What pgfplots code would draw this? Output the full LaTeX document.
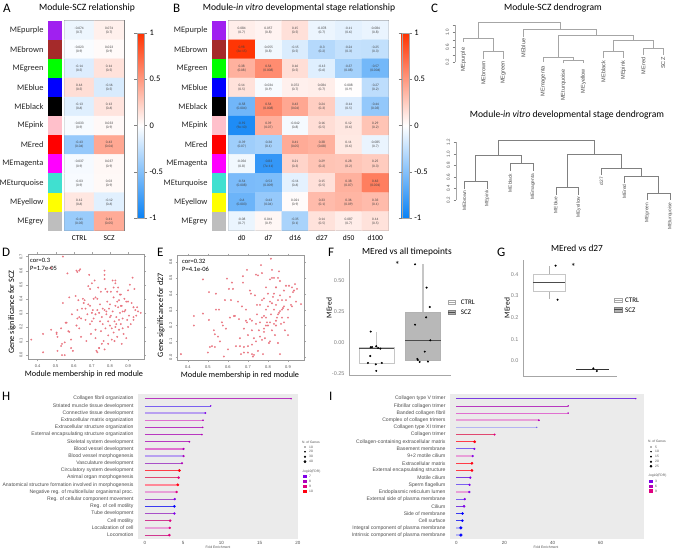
\documentclass[border=0pt]{standalone}
\usepackage{fontspec}
\setmainfont{Carlito}
\newfontfamily\sansgg{Liberation Sans}
\usepackage{pgfplots}
\usepackage{pgfplotstable}
\pgfplotsset{compat=1.18}

\newcommand\fs[1]{\fontsize{#1}{#1}\selectfont}
% text placed in reference pixels, origin top left
\newcommand\T[4][]{\node[inner sep=0,#1] at (#2pt,-#3pt){#4};}

\definecolor{ppl}{HTML}{7A3CE0}
\definecolor{vio}{HTML}{7A60F0}
\definecolor{lav}{HTML}{B8A0F0}
\definecolor{ltb}{HTML}{B4B4F2}
\definecolor{orc}{HTML}{B838C0}
\definecolor{rrs}{HTML}{E070D0}
\definecolor{lpk}{HTML}{E8A0D8}
\definecolor{plm}{HTML}{A850C8}
\definecolor{rd}{HTML}{FF3C48}
\definecolor{rse}{HTML}{E04870}
\definecolor{lrd}{HTML}{FF8898}
\definecolor{cri}{HTML}{D03890}
\definecolor{blu}{HTML}{3A3AF0}
\definecolor{dpur}{HTML}{8000E8}
\definecolor{dmag}{HTML}{B000B8}
\definecolor{dcri}{HTML}{E00080}
\definecolor{dred}{HTML}{FF0010}
\definecolor{dblu}{HTML}{0000FF}
\definecolor{ptc}{HTML}{E8707C}
\definecolor{txt}{HTML}{4D4D4D}

\pgfplotsset{
  mybox/.style n args={4}{at={(#1pt,-#2pt)},anchor=north west,width=#3pt,height=#4pt,scale only axis},
  /pgf/number format/assume math mode=true,
  colormap={bwr}{rgb255=(10,130,245) rgb255=(255,255,255) rgb255=(255,50,0)},
  myheat/.style={enlargelimits=false,y dir=reverse,ymin=-.5,ymax=10.5,ytick=\empty,
    major tick length=0pt,axis line style={draw=gray,line width=.8pt},point meta min=-1,point meta max=1,
    xticklabel style={font=\fs{7.5},text=black,yshift=-1pt},
    colorbar,colorbar style={at={(parent axis.north east)},anchor=north west,xshift=4.5pt,yshift=-12.3pt,
      width=7pt,height=185pt,ytick={-1,-.5,0,.5,1},yticklabels={-1,-0.5,0,0.5,1},
      major tick length=3pt,tick align=outside,axis line style={draw=gray!70,line width=.4pt},
      yticklabel style={font=\fs{8.5},xshift=-1pt}}},
  mycelltxt/.style={only marks,mark=none,point meta=explicit symbolic,
    every node near coord/.style={anchor=center,inner sep=0,text=black!75,font=\fs{3.5},yshift=#1}},
  mystrip/.style={hide x axis,y dir=reverse,xmin=0,xmax=1,ymin=-.5,ymax=10.5,axis y line=left,y axis line style={draw=none},
    major tick length=0pt,ytick={0,...,10},
    yticklabels={MEpurple,MEbrown,MEgreen,MEblue,MEblack,MEpink,MEred,MEmagenta,MEturquoise,MEyellow,MEgrey},
    yticklabel style={font=\fs{8.4},text=black!85,xshift=-1pt}},
  mydendro/.style={clip=false,hide x axis,axis y line=left,y axis line style={draw=none},tick align=outside,
    major tick length=2.5pt,tick style={draw=gray},ytick={.2,.4,.6,.8,1,1.2},
    yticklabels={0.2,,0.6,,1.0,},
    yticklabel style={font=\sansgg\fs{4.5},text=txt,rotate=90,anchor=south,yshift=0pt}},
  mydg/.style={draw=gray!70,line width=.5pt},
  myscat/.style={axis line style={draw=gray!80,line width=.9pt},tick style={draw=gray!70},major tick length=2pt,
    tick align=outside,xtick={.4,.5,.6,.7,.8,.9},ytick={0,.1,.2,.3,.4,.5,.6,.7},
    xticklabels={0.4,0.5,0.6,0.7,0.8,0.9},yticklabels={0.0,0.1,0.2,0.3,0.4,0.5,0.6,0.7},
    xticklabel style={font=\sansgg\fs{4},text=txt},
    yticklabel style={font=\sansgg\fs{4},text=txt,rotate=90,anchor=south}},
  mypts/.style={only marks,mark=*,mark size=.75pt,color=ptc,opacity=.85},
  mybx/.style={axis x line=bottom,axis y line=left,axis line style={-,draw=gray!70,line width=.6pt},xtick=\empty,
    major tick length=0pt,yticklabel style={font=\sansgg\fs{5.5},text=gray,xshift=-1pt}},
  mydot/.style={only marks,mark=*,mark size=.8pt,color=black},
  mylolli/.style={y dir=reverse,ymin=.35,ymax=20.55,ytick={1,...,20},axis background/.style={fill=black!8},
    axis line style={draw=none},major tick length=0pt,clip=false,
    xticklabel style={font=\sansgg\fs{4.5},text=txt,yshift=1pt},
    yticklabel style={font=\sansgg\fs{5.1},text=txt,xshift=-1pt}},
}

% one lollipop: row, value, line colour, line width, dot colour, dot size
\newcommand\lol[6]{\addplot[#3,line width=#4pt] coordinates {(0,#1)(#2,#1)};
  \addplot[only marks,mark=*,mark size=#6pt,color=#5] coordinates {(#2,#1)};}
\newcommand\mestrips{
  \addplot[fill={rgb,255:red,160;green,32;blue,240},draw=none] coordinates {(0,-.5)(1,-.5)(1,.5)(0,.5)} --cycle;
  \addplot[fill={rgb,255:red,165;green,42;blue,42},draw=none] coordinates {(0,.5)(1,.5)(1,1.5)(0,1.5)} --cycle;
  \addplot[fill={rgb,255:red,0;green,255;blue,0},draw=none] coordinates {(0,1.5)(1,1.5)(1,2.5)(0,2.5)} --cycle;
  \addplot[fill={rgb,255:red,0;green,0;blue,255},draw=none] coordinates {(0,2.5)(1,2.5)(1,3.5)(0,3.5)} --cycle;
  \addplot[fill=black,draw=none] coordinates {(0,3.5)(1,3.5)(1,4.5)(0,4.5)} --cycle;
  \addplot[fill={rgb,255:red,255;green,192;blue,203},draw=none] coordinates {(0,4.5)(1,4.5)(1,5.5)(0,5.5)} --cycle;
  \addplot[fill={rgb,255:red,255;green,0;blue,0},draw=none] coordinates {(0,5.5)(1,5.5)(1,6.5)(0,6.5)} --cycle;
  \addplot[fill={rgb,255:red,255;green,0;blue,255},draw=none] coordinates {(0,6.5)(1,6.5)(1,7.5)(0,7.5)} --cycle;
  \addplot[fill={rgb,255:red,64;green,224;blue,208},draw=none] coordinates {(0,7.5)(1,7.5)(1,8.5)(0,8.5)} --cycle;
  \addplot[fill={rgb,255:red,255;green,255;blue,0},draw=none] coordinates {(0,8.5)(1,8.5)(1,9.5)(0,9.5)} --cycle;
  \addplot[fill={rgb,255:red,190;green,190;blue,190},draw=none] coordinates {(0,9.5)(1,9.5)(1,10.5)(0,10.5)} --cycle;
}
% a heatmap: colours, correlation above, p value below
\newcommand\heatcells[2]{
  \addplot[matrix plot*,mesh/cols=#1,point meta=\thisrow{c}] table[x=x,y=y] {#2};
  \addplot[mycelltxt=2.1pt,nodes near coords={\pgfplotspointmeta}] table[x=x,y=y,meta=c] {#2};
  \addplot[mycelltxt=-2.1pt,nodes near coords={(\pgfplotspointmeta)}] table[x=x,y=y,meta=p] {#2};
}

\pgfplotstableread{
x y c p
0 0 -0.074 0.7
1 0 0.074 0.7
0 1 -0.023 0.9
1 1 0.023 0.9
0 2 -0.14 0.5
1 2 0.14 0.5
0 3 0.16 0.5
1 3 -0.16 0.5
0 4 -0.13 0.6
1 4 0.13 0.6
0 5 -0.033 0.9
1 5 0.033 0.9
0 6 -0.43 0.04
1 6 0.43 0.04
0 7 -0.037 0.9
1 7 0.037 0.9
0 8 -0.03 0.9
1 8 0.03 0.9
0 9 0.12 0.6
1 9 -0.12 0.6
0 10 -0.41 0.05
1 10 0.41 0.05
}\tabA

\pgfplotstableread{
x y c p
0 0 0.084 0.7
1 0 0.057 0.8
2 0 0.15 0.5
3 0 -0.078 0.7
4 0 -0.11 0.6
5 0 -0.084 0.8
0 1 0.98 3e-15
1 1 -0.055 0.8
2 1 -0.15 0.5
3 1 -0.3 0.2
4 1 -0.24 0.3
5 1 -0.25 0.3
0 2 0.38 0.08
1 2 0.56 0.008
2 2 0.16 0.5
3 2 -0.13 0.6
4 2 -0.37 0.08
5 2 -0.57 0.004
0 3 0.14 0.5
1 3 -0.034 0.9
2 3 0.072 0.7
3 3 0.084 0.7
4 3 0.008 0.9
5 3 -0.27 0.2
0 4 -0.58 0.004
1 4 0.56 0.008
2 4 0.43 0.04
3 4 0.24 0.3
4 4 -0.14 0.5
5 4 -0.44 0.03
0 5 -0.92 9e-10
1 5 0.39 0.07
2 5 -0.042 0.8
3 5 0.16 0.5
4 5 0.12 0.6
5 5 0.29 0.2
0 6 -0.39 0.07
1 6 -0.36 0.1
2 6 0.41 0.05
3 6 0.38 0.08
4 6 0.11 0.6
5 6 -0.085 0.7
0 7 -0.056 0.8
1 7 -0.83 7e-11
2 7 0.21 0.3
3 7 0.29 0.2
4 7 0.28 0.2
5 7 0.25 0.3
0 8 -0.54 0.008
1 8 -0.53 0.009
2 8 -0.11 0.6
3 8 0.15 0.5
4 8 0.38 0.07
5 8 0.63 0.001
0 9 -0.6 0.003
1 9 -0.43 0.04
2 9 0.021 0.9
3 9 0.33 0.1
4 9 0.36 0.09
5 9 0.33 0.1
0 10 -0.08 0.7
1 10 0.041 0.9
2 10 -0.35 0.1
3 10 0.14 0.5
4 10 0.087 0.7
5 10 0.14 0.5
}\tabB

\begin{document}
\begin{tikzpicture}
\useasboundingbox (0pt,0pt) rectangle (675pt,-550pt);

% A
\T[anchor=west,font=\fs{13}]{3}{8}{A}
\T[font=\fs{9.6}]{87}{8}{Module-SCZ relationship}
\begin{axis}[mybox={48}{20.7}{14}{210},mystrip]
\mestrips
\end{axis}
\begin{axis}[mybox={64.3}{20.7}{59.7}{210},myheat,xmin=-.5,xmax=1.5,xtick={0,1},xticklabels={CTRL,SCZ}]
\heatcells{2}{\tabA}
\end{axis}

% B
\T[anchor=west,font=\fs{13}]{173}{8}{B}
\T[font=\fs{9.6}]{299}{8}{Module-\textit{in vitro} developmental stage relationship}
\begin{axis}[mybox={212}{20.7}{14}{210},mystrip]
\mestrips
\end{axis}
\begin{axis}[mybox={228.3}{20.7}{160.4}{210},myheat,xmin=-.5,xmax=5.5,xtick={0,...,5},xticklabels={d0,d7,d16,d27,d50,d100}]
\heatcells{6}{\tabB}
\end{axis}

% C
\T[anchor=west,font=\fs{13}]{431}{8}{C}
\T[font=\fs{9.6}]{553}{8}{Module-SCZ dendrogram}
\T[font=\fs{9.6}]{567}{115}{Module-\textit{in vitro} developmental stage dendrogram}
\begin{axis}[mybox={455}{22.67}{215}{39.67},mydendro,xmin=.585,xmax=11.335,ymin=.2,ymax=1.2625]
\addplot[draw=gray!70,line width=.4pt] coordinates {(.585,.2)(.585,1.2)};
\addplot[mydg] coordinates {(2,.28)(2,.486)(3,.486)(3,.28)};
\addplot[mydg] coordinates {(1,.754)(1,.834)(2.5,.834)(2.5,.486)};
\addplot[mydg] coordinates {(6,.173)(6,.2625)(7,.2625)(7,.173)};
\addplot[mydg] coordinates {(5,.218)(5,.334)(6.5,.334)(6.5,.2625)};
\addplot[mydg] coordinates {(8,.307)(8,.495)(9,.495)(9,.307)};
\addplot[mydg] coordinates {(10,.396)(10,.566)(11,.566)(11,.396)};
\addplot[mydg] coordinates {(8.5,.495)(8.5,.789)(10.5,.789)(10.5,.566)};
\addplot[mydg] coordinates {(5.75,.334)(5.75,.932)(9.5,.932)(9.5,.789)};
\addplot[mydg] coordinates {(4,.87)(4,1.084)(7.67,1.084)(7.67,.932)};
\addplot[mydg] coordinates {(1.75,.834)(1.75,1.2625)(5.83,1.2625)(5.83,1.084)};
\begin{scope}[every node/.style={rotate=90,anchor=east,inner sep=0,font=\sansgg\fs{5.6},text=txt}]
\node at (axis cs:1,.593){MEpurple};
\node at (axis cs:2,.236){MEbrown};
\node at (axis cs:3,.236){MEgreen};
\node at (axis cs:4,.843){MEblue};
\node at (axis cs:5,.102){MEmagenta};
\node at (axis cs:6,.021){MEturquoise};
\node at (axis cs:7,.021){MEyellow};
\node at (axis cs:8,.245){MEblack};
\node at (axis cs:9,.245){MEpink};
\node at (axis cs:10,.334){MEred};
\node at (axis cs:11,.334){SCZ};
\end{scope}
\end{axis}
\begin{axis}[mybox={456}{140.67}{215.7}{59.33},mydendro,yticklabels={0.2,0.4,0.6,0.8,1.0,1.2},xmin=.635,xmax=10.073,ymin=.2,ymax=1.229]
\addplot[draw=gray!70,line width=.4pt] coordinates {(.635,.2)(.635,1.2)};
\addplot[mydg,draw=gray] coordinates {(1,.385)(1,.518)(2,.518)(2,.385)};
\addplot[mydg,draw=gray] coordinates {(3,.709)(3,.83)(4,.83)(4,.709)};
\addplot[mydg,draw=gray] coordinates {(1.496,.518)(1.496,.975)(3.51,.975)(3.51,.83)};
\addplot[mydg,draw=gray] coordinates {(5,.287)(5,.414)(6,.414)(6,.287)};
\addplot[mydg,draw=gray] coordinates {(9,.2)(9,.31)(10,.31)(10,.2)};
\addplot[mydg,draw=gray] coordinates {(8,.489)(8,.61)(9.5,.61)(9.5,.31)};
\addplot[mydg,draw=gray] coordinates {(7,.634)(7,.749)(8.76,.749)(8.76,.61)};
\addplot[mydg,draw=gray] coordinates {(5.5,.414)(5.5,.992)(7.886,.992)(7.886,.749)};
\addplot[mydg,draw=gray,line width=.8pt] coordinates {(2.488,.975)(2.488,1.229)(6.689,1.229)(6.689,.992)};
\begin{scope}[every node/.style={rotate=90,anchor=east,inner sep=0,font=\sansgg\fs{4.8},text=txt}]
\node at (axis cs:1,.37){MEbrown};
\node at (axis cs:2,.37){MEpink};
\node at (axis cs:3,.66){MEblack};
\node at (axis cs:4,.66){MEmagenta};
\node at (axis cs:5,.26){MEblue};
\node at (axis cs:6,.26){MEyellow};
\node at (axis cs:7,.6){d27};
\node at (axis cs:8,.47){MEred};
\node at (axis cs:9,.155){MEgreen};
\node at (axis cs:10,.155){MEturquoise};
\end{scope}
\end{axis}

% D
\T[anchor=west,font=\fs{13}]{2}{252}{D}
\T[rotate=90,font=\fs{8.2}]{12}{312}{Gene significance for SCZ}
\T[font=\fs{8.2}]{84}{374}{Module membership in red module}
\begin{axis}[mybox={28}{254.3}{116}{105},myscat,xmin=.347,xmax=.988,ymin=-.03,ymax=.716]
\addplot[mypts] coordinates {
(.365,.11)(.43,.15)(.43,.02)(.475,.18)(.475,.62)(.505,.15)(.505,.16)(.51,.13)(.51,.03)(.53,.19)
(.535,.08)(.53,.065)(.54,.37)(.54,.70)(.535,0)(.55,0)(.55,.09)(.555,.23)(.56,.23)(.565,.58)
(.57,.17)(.575,.165)(.575,.41)(.585,.11)(.59,.29)(.585,.05)(.595,.03)(.61,.42)(.615,.6)(.62,.59)
(.625,.39)(.63,.6)(.635,.61)(.62,.32)(.63,.27)(.615,.21)(.63,.19)(.64,.26)(.645,.33)(.65,.4)
(.655,.37)(.62,.26)(.64,.13)(.66,.39)(.665,.25)(.665,.33)(.67,.10)(.675,.29)(.68,.36)(.685,.57)
(.68,.49)(.69,.47)(.69,.35)(.695,.15)(.70,.24)(.70,.51)(.705,.32)(.71,.40)(.71,.26)(.715,.53)
(.72,.41)(.72,.18)(.72,.12)(.725,.03)(.73,.32)(.73,.40)(.735,.48)(.74,.05)(.74,.30)(.745,.24)
(.745,.36)(.75,.17)(.75,.45)(.755,.08)(.755,.27)(.76,.33)(.765,.10)(.77,.60)(.77,.57)(.77,.54)
(.77,.32)(.775,.47)(.775,.19)(.78,.29)(.78,.31)(.785,.45)(.785,.38)(.79,.24)(.79,.14)(.795,.33)
(.80,.36)(.80,.21)(.805,.45)(.805,.28)(.81,.19)(.81,.11)(.815,.53)(.815,.31)(.82,.48)(.82,.41)
(.825,.24)(.825,.10)(.83,.53)(.83,.51)(.83,.35)(.835,.27)(.835,.22)(.84,.13)(.84,.45)(.845,.48)
(.845,.34)(.85,.25)(.85,.39)(.855,.43)(.855,.30)(.86,.43)(.86,.22)(.865,.08)(.865,.35)(.87,.26)
(.87,.31)(.875,.15)(.88,.40)(.885,.32)(.89,.38)(.89,.12)(.895,.25)(.90,.46)(.90,.38)(.905,.28)
(.91,.50)(.915,.22)(.92,.37)(.925,.55)(.93,.27)(.93,.34)(.935,.47)(.94,.32)(.945,.28)(.95,.34)
(.955,.31)(.97,.30)(.90,.20)(.93,.25)(.87,.19)(.82,.16)(.79,.08)(.77,.04)(.74,.05)(.73,.02)
(.80,.27)(.83,.20)(.85,.18)(.76,.22)(.72,.29)(.70,.30)(.69,.22)(.84,.38)(.86,.35)(.88,.31)
};
\end{axis}
\T[anchor=west,font=\fs{6.5}]{30}{260}{cor=0.3}
\T[anchor=west,font=\fs{6.5}]{30}{268}{P=1.7e-05}

% E
\T[anchor=west,font=\fs{13}]{157}{252}{E}
\T[rotate=90,font=\fs{8.2}]{161}{315}{Gene significance for d27}
\T[font=\fs{8.2}]{240}{375}{Module membership in red module}
\begin{axis}[mybox={177.7}{255.7}{126.3}{104.3},myscat,xmin=.349,xmax=.98,ymin=-.017,ymax=.639,ytick={0,.1,.2,.3,.4,.5,.6},yticklabels={0.0,0.1,0.2,0.3,0.4,0.5,0.6}]
\addplot[mypts] coordinates {
(.365,.02)(.43,.26)(.43,.20)(.475,.49)(.475,.275)(.505,.41)(.505,.235)(.50,.03)(.51,.065)(.52,.07)
(.53,.17)(.535,.145)(.54,.40)(.54,.30)(.535,.065)(.55,.13)(.555,.30)(.56,.10)(.57,.22)(.575,.20)
(.58,.005)(.585,.36)(.59,.18)(.595,.495)(.60,.05)(.605,.43)(.62,.47)(.625,.43)(.615,.36)(.61,.25)
(.63,.26)(.635,.26)(.64,.07)(.65,.35)(.655,.24)(.66,.07)(.665,.02)(.67,.32)(.675,.51)(.675,.47)
(.68,.18)(.68,.065)(.69,.23)(.695,.22)(.695,.55)(.70,.14)(.70,.03)(.71,.24)(.71,.42)(.715,.40)
(.72,.02)(.72,.17)(.725,.005)(.73,.015)(.735,.39)(.74,.10)(.74,.52)(.745,.27)(.745,.33)(.75,.515)
(.755,.17)(.76,.33)(.765,.58)(.77,.53)(.77,.25)(.775,.02)(.78,.18)(.78,.37)(.785,.12)(.79,.30)
(.79,.44)(.795,.22)(.80,.20)(.80,.32)(.805,.09)(.81,.10)(.81,.49)(.815,.62)(.815,.27)(.82,.55)
(.82,.17)(.825,.38)(.83,.21)(.83,.50)(.835,.14)(.84,.44)(.84,.33)(.845,.25)(.85,.50)(.85,.09)
(.855,.54)(.855,.28)(.86,.02)(.86,.39)(.865,.21)(.87,.25)(.875,.31)(.88,.42)(.885,.17)(.89,.36)
(.90,.14)(.90,.30)(.905,.45)(.91,.38)(.915,.33)(.92,.32)(.925,.41)(.93,.42)(.935,.46)(.94,.35)
(.945,.43)(.965,.335)(.76,.13)(.72,.08)(.68,.03)(.66,.12)(.73,.12)(.77,.11)(.79,.25)(.81,.22)
(.80,.40)(.82,.34)(.84,.20)(.86,.29)(.87,.30)(.83,.30)(.76,.22)(.74,.21)(.78,.16)(.77,.36)
(.70,.07)(.82,.50)(.84,.44)(.86,.48)(.88,.32)(.89,.45)(.90,.25)(.88,.22)(.92,.44)(.75,.04)
(.72,.23)(.69,.30)(.85,.27)(.83,.40)(.87,.36)(.81,.35)(.79,.20)(.85,.36)(.78,.26)(.84,.23)
};
\end{axis}
\T[anchor=west,font=\fs{6.5}]{182}{261}{cor=0.32}
\T[anchor=west,font=\fs{6.5}]{182}{269}{P=4.1e-06}

% F
\T[anchor=west,font=\fs{13}]{328}{252}{F}
\T[font=\fs{9.4}]{407}{252}{MEred vs all timepoints}
\T[rotate=90,font=\fs{7.5}]{329}{308}{MEred}
\begin{axis}[mybox={349}{259}{102}{116},mybx,xmin=.4,xmax=2.609,ymin=-.263,ymax=.67,ytick={-.25,0,.25,.5},yticklabels={-0.25,0.00,0.25,0.50},clip=false]
% CTRL
\addplot[draw=gray!45,line width=1pt] coordinates {(1,-.043)(1,.086)};
\addplot[draw=gray!45,line width=.7pt,fill=white] coordinates {(.616,-.169)(1.384,-.169)(1.384,-.043)(.616,-.043)} --cycle;
\addplot[draw=black!70,line width=.6pt] coordinates {(.616,-.048)(1.384,-.048)};
% SCZ
\addplot[draw=gray!45,line width=1.5pt] coordinates {(2,.241)(2,.627)};
\addplot[draw=gray!60,line width=.6pt,fill=black!28] coordinates {(1.616,-.142)(2.384,-.142)(2.384,.241)(1.616,.241)} --cycle;
\addplot[draw=black!70,line width=.6pt] coordinates {(1.616,.016)(2.384,.016)};
\addplot[mydot] coordinates {(.87,.086)(.87,-.04)(.9,-.038)(.99,-.032)(1.03,-.046)(1.08,-.051)(.86,-.11)(.81,-.166)(.98,-.177)(1.11,-.166)(.99,-.23)};
\addplot[mydot] coordinates {(1.83,.627)(2.08,.44)(2.15,.284)(2.07,.201)(1.83,.142)(2.16,.016)(2.04,-.075)(1.88,-.134)(1.89,-.142)(1.93,-.158)(2.11,-.155)};
\node[inner sep=0,font=\fs{10}] at (axis cs:1.449,.625){*};
\end{axis}

% G
\T[anchor=west,font=\fs{13}]{497}{252}{G}
\T[font=\fs{9.4}]{577}{248}{MEred vs d27}
\T[rotate=90,font=\fs{7.5}]{507}{308}{MEred}
\begin{axis}[mybox={523}{260}{94}{116},mybx,xmin=.395,xmax=2.566,ymin=-.069,ymax=.466,ytick={0,.1,.2,.3,.4},yticklabels={0.0,0.1,0.2,0.3,0.4},clip=false]
\addplot[draw=gray!60,line width=.6pt] coordinates {(1,.286)(1,.44)};
\addplot[draw=gray!45,line width=.7pt,fill=white] coordinates {(.625,.322)(1.375,.322)(1.375,.4)(.625,.4)} --cycle;
\addplot[draw=black!70,line width=.6pt] coordinates {(.625,.363)(1.375,.363)};
\addplot[draw=black!80,line width=.9pt] coordinates {(1.625,-.037)(2.375,-.037)};
\addplot[mydot] coordinates {(1.147,.44)(1.194,.283)(2.02,-.034)(2.1,-.046)};
\node[inner sep=0,font=\fs{10}] at (axis cs:1.558,.435){*};
\end{axis}

% H
\T[anchor=west,font=\fs{13}]{2}{396}{H}
\begin{axis}[mybox={138}{394}{160}{145},mylolli,xmin=-.9,xmax=20,xtick={0,5,10,15,20},xticklabels={0,5,10,15,20},
  yticklabels={Collagen fibril organization,Striated muscle tissue development,Connective tissue development,Extracellular matrix organization,Extracellular structure organization,External encapsulating structure organization,Skeletal system development,Blood vessel development,Blood vessel morphogenesis,Vasculature development,Circulatory system development,Animal organ morphogenesis,Anatomical structure formation involved in morphogenesis,Negative reg. of multicellular organismal proc.,Reg. of cellular component movement,Reg. of cell motility,Tube development,Cell motility,Localization of cell,Locomotion}]
\lol{1}{19.1}{orc}{.6}{dmag}{.5}
\lol{2}{8.6}{vio}{.7}{dpur}{.5}
\lol{3}{7.9}{lav}{1.5}{dpur}{.7}
\lol{4}{7.6}{rrs}{1.2}{dmag}{.6}
\lol{5}{7.55}{orc}{.8}{dmag}{.6}
\lol{6}{7.45}{orc}{.7}{dmag}{.6}
\lol{7}{5.8}{orc}{.7}{dmag}{.7}
\lol{8}{5.05}{rrs}{1.3}{dmag}{.9}
\lol{9}{5.05}{lav}{1.4}{dmag}{.9}
\lol{10}{4.85}{plm}{.9}{dmag}{.9}
\lol{11}{4.5}{rd}{.9}{dred}{1.2}
\lol{12}{4.4}{rse}{1}{dcri}{1.1}
\lol{13}{4.3}{lrd}{1.5}{dred}{1.2}
\lol{14}{4.15}{lpk}{1.5}{dcri}{1}
\lol{15}{3.9}{plm}{.9}{dpur}{1}
\lol{16}{3.85}{blu}{.9}{dblu}{1.1}
\lol{17}{3.85}{plm}{.9}{dpur}{1}
\lol{18}{3.3}{cri}{.8}{dcri}{1.1}
\lol{19}{3.25}{lpk}{1.5}{dcri}{1}
\lol{20}{3.2}{cri}{1}{dcri}{1.1}
\end{axis}
\T[font=\sansgg\fs{3.4},text=txt]{218}{547.7}{Fold Enrichment}

% I
\T[anchor=west,font=\fs{13}]{329}{396}{I}
\begin{axis}[mybox={450}{394}{194}{145},mylolli,xmin=-2.63,xmax=78,xtick={0,20,40,60},xticklabels={0,20,40,60},
  yticklabels={Collagen type V trimer,Fibrillar collagen trimer,Banded collagen fibril,Complex of collagen trimers,Collagen type XI trimer,Collagen trimer,Collagen-containing extracellular matrix,Basement membrane,9+2 motile cilium,Extracellular matrix,External encapsulating structure,Motile cilium,Sperm flagellum,Endoplasmic reticulum lumen,External side of plasma membrane,Cilium,Side of membrane,Cell surface,Integral component of plasma membrane,Intrinsic component of plasma membrane}]
\lol{1}{74.6}{ppl}{.6}{dpur}{.4}
\lol{2}{46.5}{orc}{.7}{dmag}{.5}
\lol{3}{46.5}{rrs}{.9}{dmag}{.5}
\lol{4}{34.3}{lpk}{1.5}{dmag}{.7}
\lol{5}{33.4}{ltb}{1.4}{vio}{.5}
\lol{6}{15.9}{rse}{.9}{dcri}{.8}
\lol{7}{7.6}{rd}{.9}{dred}{1.2}
\lol{8}{7.5}{vio}{.9}{dpur}{.9}
\lol{9}{6.8}{lpk}{1.4}{dpur}{.9}
\lol{10}{6.5}{rd}{.9}{dred}{1.2}
\lol{11}{6.5}{rd}{.9}{dred}{1.2}
\lol{12}{5.8}{ppl}{.8}{dpur}{.9}
\lol{13}{5.5}{vio}{.9}{dpur}{.9}
\lol{14}{5.4}{lpk}{1.3}{dpur}{.9}
\lol{15}{3.5}{vio}{.9}{dpur}{.9}
\lol{16}{3.2}{ppl}{.9}{dpur}{1.1}
\lol{17}{2.6}{blu}{.9}{dblu}{1.1}
\lol{18}{2.5}{blu}{.9}{dblu}{1.1}
\lol{19}{1.9}{ltb}{1.4}{dblu}{1.4}
\lol{20}{1.9}{ltb}{1.4}{dblu}{1.4}
\end{axis}
\T[font=\sansgg\fs{3.4},text=txt]{546}{547.7}{Fold Enrichment}

% legend keys, in a canvas axis that spans the page in reference pixels
\begin{axis}[mybox={0}{0}{675}{550},hide axis,xmin=0,xmax=675,ymin=0,ymax=550,y dir=reverse,clip=false]
\addplot[fill=white,draw=gray!70,line width=.4pt] coordinates {(448.3,300.6)(455,300.6)(455,304.4)(448.3,304.4)} --cycle;
\addplot[draw=gray!70,line width=.4pt] coordinates {(448.3,302.5)(455,302.5)};
\addplot[fill=black!30,draw=gray,line width=.4pt] coordinates {(448.3,310)(455,310)(455,314)(448.3,314)} --cycle;
\addplot[draw=black!70,line width=.4pt] coordinates {(448.3,312)(455,312)};
\addplot[fill=white,draw=gray!70,line width=.4pt] coordinates {(614,297.7)(621.7,297.7)(621.7,302.3)(614,302.3)} --cycle;
\addplot[draw=gray!70,line width=.4pt] coordinates {(614,300)(621.7,300)};
\addplot[fill=black!30,draw=gray,line width=.4pt] coordinates {(614,306.7)(621.7,306.7)(621.7,311.7)(614,311.7)} --cycle;
\addplot[draw=black!70,line width=.4pt] coordinates {(614,309.2)(621.7,309.2)};
\addplot[only marks,mark=*,mark size=.3pt,black] coordinates {(305,447)};
\addplot[only marks,mark=*,mark size=.6pt,black] coordinates {(305,451.7)};
\addplot[only marks,mark=*,mark size=.9pt,black] coordinates {(305,456.7)};
\addplot[only marks,mark=*,mark size=1.2pt,black] coordinates {(305,461.7)};
\addplot[fill=dpur,draw=none] coordinates {(303.3,475)(306.7,475)(306.7,478.4)(303.3,478.4)} --cycle;
\addplot[fill=dmag,draw=none] coordinates {(303.3,480)(306.7,480)(306.7,483.4)(303.3,483.4)} --cycle;
\addplot[fill=dcri,draw=none] coordinates {(303.3,485)(306.7,485)(306.7,488.4)(303.3,488.4)} --cycle;
\addplot[fill=dred,draw=none] coordinates {(303.3,490)(306.7,490)(306.7,493.4)(303.3,493.4)} --cycle;
\addplot[only marks,mark=*,mark size=.3pt,black] coordinates {(651,447)};
\addplot[only marks,mark=*,mark size=.5pt,black] coordinates {(651,451.7)};
\addplot[only marks,mark=*,mark size=.7pt,black] coordinates {(651,456.7)};
\addplot[only marks,mark=*,mark size=.9pt,black] coordinates {(651,461.7)};
\addplot[only marks,mark=*,mark size=1.1pt,black] coordinates {(651,466.3)};
\addplot[fill=dpur,draw=none] coordinates {(649.3,480)(652.7,480)(652.7,483.4)(649.3,483.4)} --cycle;
\addplot[fill=dmag,draw=none] coordinates {(649.3,484.6)(652.7,484.6)(652.7,488)(649.3,488)} --cycle;
\addplot[fill=dcri,draw=none] coordinates {(649.3,489.3)(652.7,489.3)(652.7,492.7)(649.3,492.7)} --cycle;
\end{axis}

\T[anchor=west,font=\fs{7}]{460.7}{302.7}{CTRL}
\T[anchor=west,font=\fs{7}]{460.7}{312.3}{SCZ}
\T[anchor=west,font=\fs{7}]{625}{300.7}{CTRL}
\T[anchor=west,font=\fs{7}]{625}{310.3}{SCZ}

\begin{scope}[every node/.style={anchor=west,inner sep=0,font=\sansgg\fs{3.3},text=txt}]
\node at (302pt,-442pt){N. of Genes};
\node at (309pt,-447pt){10};
\node at (309pt,-451.7pt){20};
\node at (309pt,-456.7pt){30};
\node at (309pt,-461.7pt){40};
\node at (302pt,-471.7pt){-log10(FDR)};
\node at (309pt,-476.7pt){7};
\node at (309pt,-481.7pt){8};
\node at (309pt,-486.7pt){9};
\node at (309pt,-491.7pt){10};
\node at (648pt,-441.7pt){N. of Genes};
\node at (655pt,-447pt){5};
\node at (655pt,-451.7pt){10};
\node at (655pt,-456.7pt){15};
\node at (655pt,-461.7pt){20};
\node at (655pt,-466.3pt){25};
\node at (648pt,-476pt){-log10(FDR)};
\node at (655pt,-481.7pt){3};
\node at (655pt,-486.3pt){6};
\node at (655pt,-491pt){9};
\end{scope}
\end{tikzpicture}
\end{document}
